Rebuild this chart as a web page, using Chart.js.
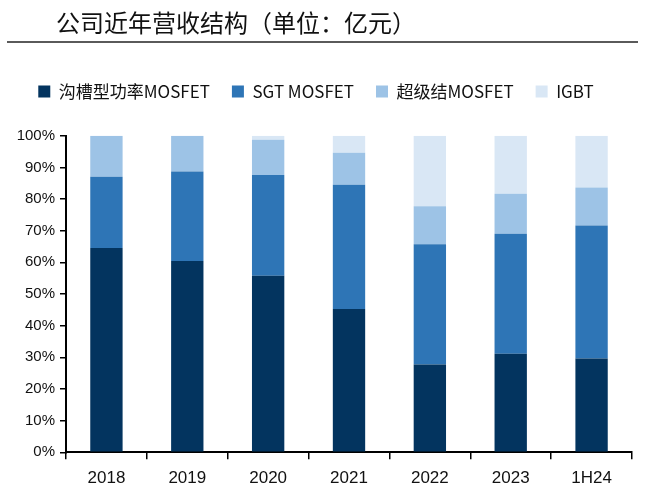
<!DOCTYPE html>
<html>
<head>
<meta charset="utf-8">
<script src="https://cdn.jsdelivr.net/npm/chart.js@4"></script>
<style>
  body { margin: 0; background: #fff; }
  #wrap { position: relative; width: 651px; height: 494px; }
  #title { position: absolute; left: 56px; top: 4px; font: 24px "Noto Sans CJK SC", sans-serif; color: #111; }
  #rule { position: absolute; left: 7px; top: 41px; width: 631px; height: 2px; background: #5a5a5a; }
  canvas { position: absolute; left: 0; top: 0; }
</style>
</head>
<body>
<div id="wrap">
  <canvas id="grafico" width="651" height="494"></canvas>
  <div id="title">公司近年营收结构（单位：亿元）</div>
  <div id="rule"></div>
</div>
<script>
const anos = ['2018', '2019', '2020', '2021', '2022', '2023', '1H24'];
const trench = [64.5, 60.4, 55.8, 45.3, 27.7, 31.1, 29.6];
const sgt = [22.5, 28.3, 31.8, 39.2, 38.0, 37.9, 42.0];
const superJunction = [13.0, 11.3, 11.1, 10.1, 12.0, 12.7, 12.0];
const igbt = [0, 0, 1.3, 5.4, 22.3, 18.3, 16.4];
const yTicks = [0, 10, 20, 30, 40, 50, 60, 70, 80, 90, 100];

const cjk = "'Noto Sans CJK SC', sans-serif";

// fixed legend height so the plot area starts where the reference one does
const legendHeight = {
  id: 'legendHeight',
  beforeInit(chart) {
    const fit = chart.legend.fit;
    chart.legend.fit = function () {
      fit.call(this);
      this.height = 74.7;
    };
  }
};

window.onload = function () {
  const ctx = document.getElementById('grafico').getContext('2d');
  new Chart(ctx, {
    type: 'bar',
    data: {
      labels: anos,
      datasets: [
        { label: '沟槽型功率MOSFET', data: trench, backgroundColor: '#03345f' },
        { label: 'SGT MOSFET', data: sgt, backgroundColor: '#2e75b6' },
        { label: '超级结MOSFET', data: superJunction, backgroundColor: '#9dc3e6' },
        { label: 'IGBT', data: igbt, backgroundColor: '#d9e7f5' }
      ]
    },
    plugins: [legendHeight],
    options: {
      responsive: false,
      animation: false,
      layout: { padding: { top: 61, left: 0, right: 19, bottom: 0 } },
      datasets: { bar: { barPercentage: 0.4, categoryPercentage: 1 } },
      plugins: {
        tooltip: { enabled: false },
        legend: {
          position: 'top',
          labels: {
            boxWidth: 12,
            boxHeight: 12,
            padding: 22,
            color: '#111',
            font: { family: cjk, size: 17 }
          }
        }
      },
      scales: {
        x: {
          stacked: true,
          afterFit(s) { s.height = 41.7; },
          grid: { display: true, drawOnChartArea: false, drawTicks: true, tickLength: 7, color: '#000', lineWidth: 1.5 },
          border: { display: true, color: '#000', width: 2 },
          ticks: { color: '#111', padding: 9, font: { family: "'Liberation Sans', Arial, sans-serif", size: 17 } }
        },
        y: {
          stacked: true,
          min: 0,
          max: 100,
          afterFit(s) { s.width = 66; },
          afterBuildTicks(s) { s.ticks = yTicks.map(v => ({ value: v })); },
          grid: { display: true, drawOnChartArea: false, drawTicks: true, tickLength: 6, color: '#000', lineWidth: 1.5 },
          border: { display: true, color: '#000', width: 2 },
          ticks: {
            color: '#111',
            padding: 5,
            font: { family: "'Liberation Sans', Arial, sans-serif", size: 15 },
            callback: v => v + '%'
          }
        }
      }
    }
  });
};
</script>
</body>
</html>
